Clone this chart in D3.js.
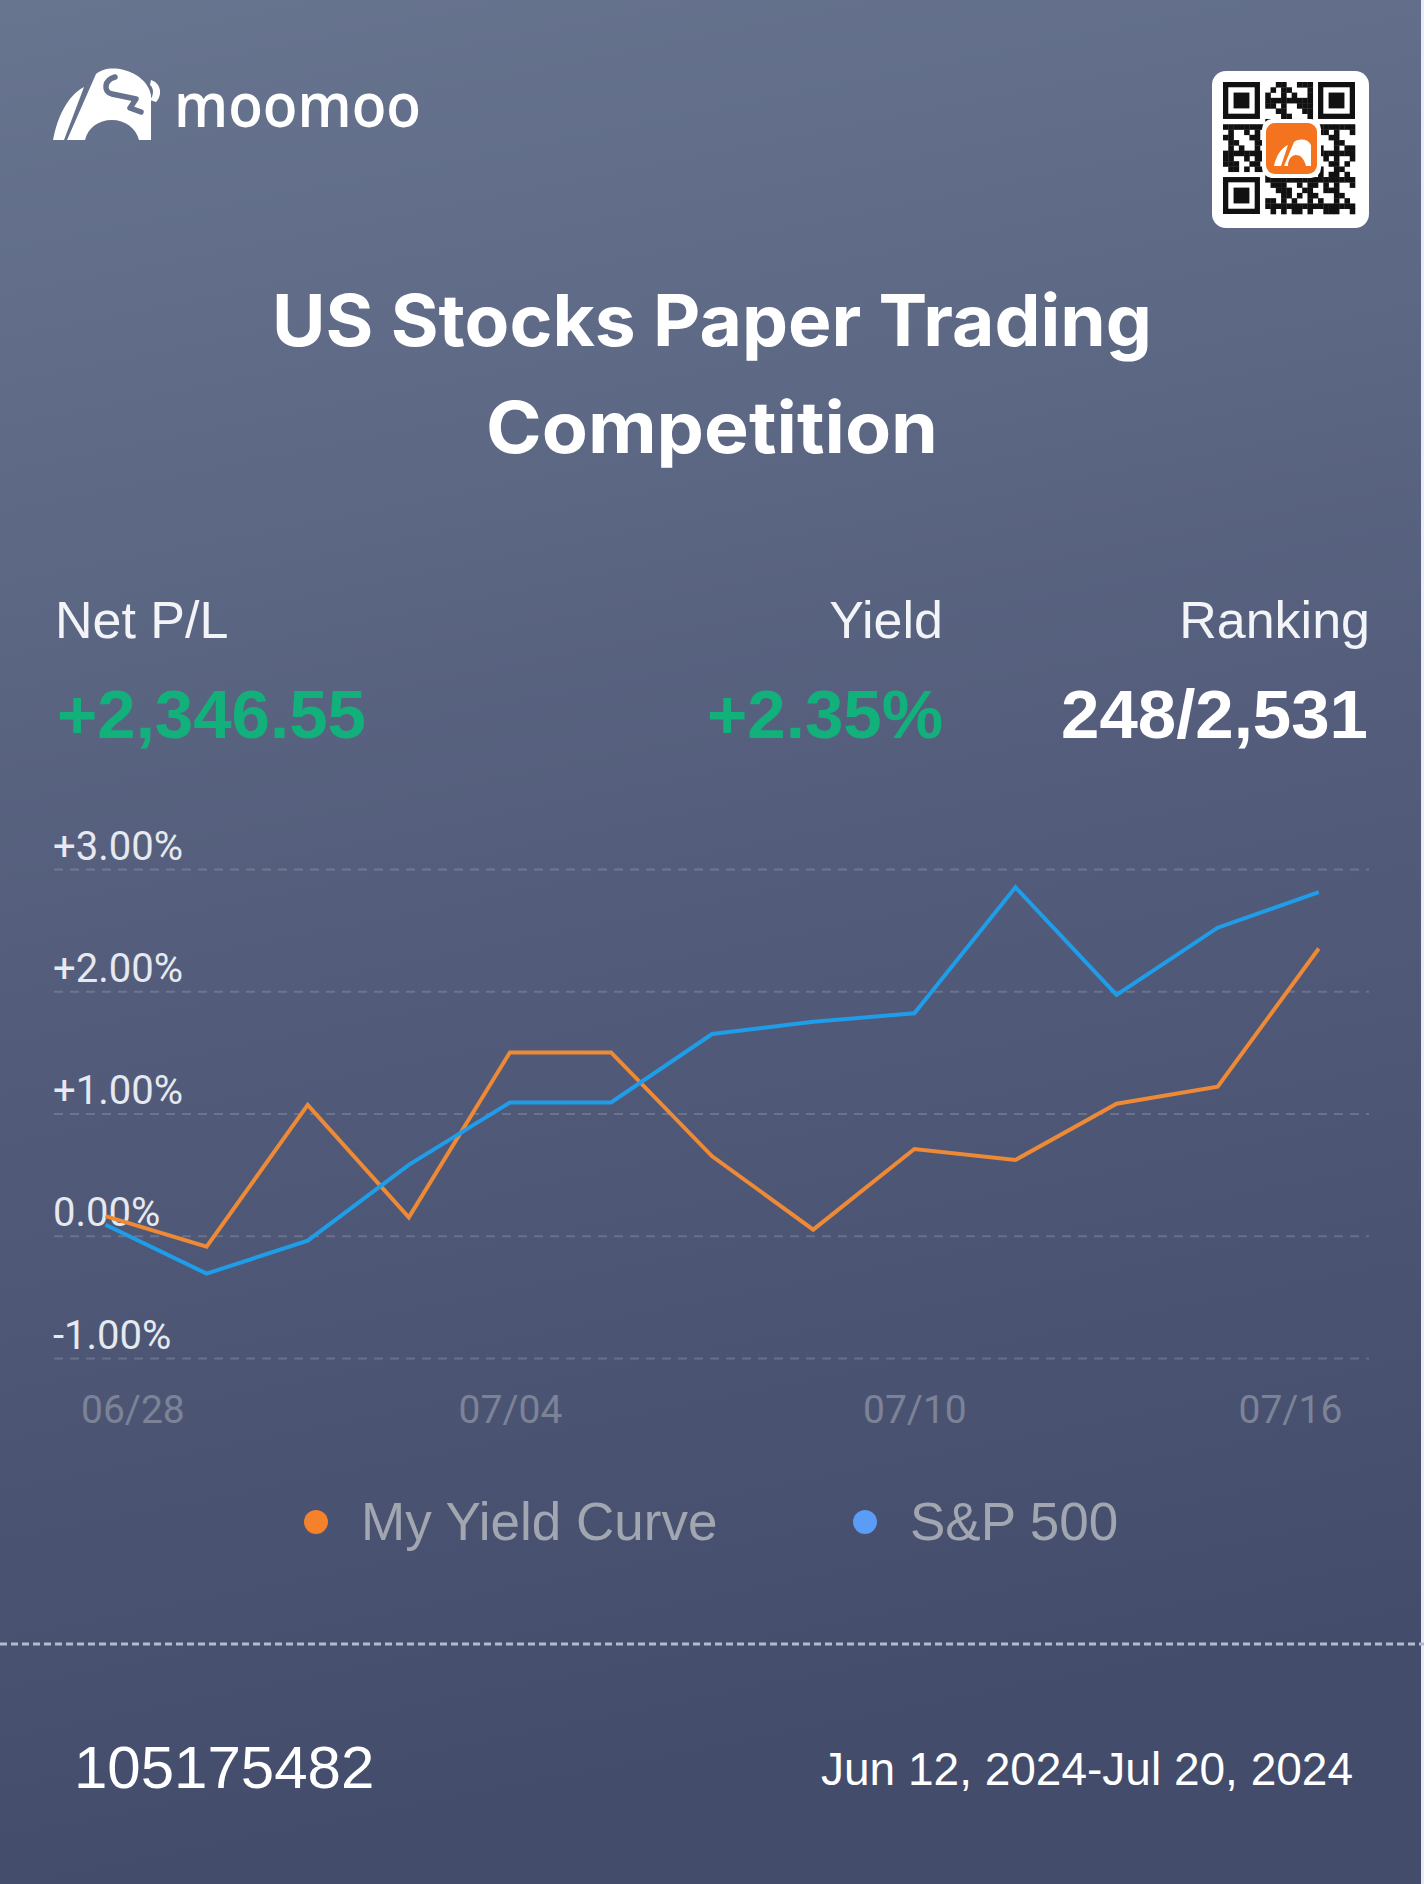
<!DOCTYPE html>
<html>
<head>
<meta charset="utf-8">
<script src="https://cdn.jsdelivr.net/npm/d3@7/dist/d3.min.js"></script>
<style>
  html, body { margin: 0; padding: 0; background: #555f7d; }
  svg { display: block; }
</style>
</head>
<body>
<svg id="chart" width="1424" height="1884"></svg>
<script>
// ---------- DATA ----------
const dates = ["06/28","07/01","07/02","07/03","07/04","07/05","07/08","07/09","07/10","07/11","07/12","07/15","07/16"];
const myYield = [0.16, -0.09, 1.07, 0.15, 1.50, 1.50, 0.65, 0.05, 0.71, 0.62, 1.08, 1.22, 2.35];
const sp500   = [0.09, -0.31, -0.04, 0.58, 1.09, 1.09, 1.65, 1.75, 1.82, 2.85, 1.97, 2.52, 2.81];
const yTicks = [-1, 0, 1, 2, 3];
const yTickLabels = ["-1.00%", "0.00%", "+1.00%", "+2.00%", "+3.00%"];
const xTickLabels = ["06/28", "07/04", "07/10", "07/16"];
const seriesNames = ["My Yield Curve", "S&P 500"];
const statLabels = ["Net P/L", "Yield", "Ranking"];
const statValues = ["+2,346.55", "+2.35%", "248/2,531"];
const titleLines = ["US Stocks Paper Trading", "Competition"];
const accountId = "105175482";
const dateRange = "Jun 12, 2024-Jul 20, 2024";

// ---------- SETUP ----------
const W = 1424, H = 1884;
const svg = d3.select("#chart");
const defs = svg.append("defs");
const bg = defs.append("linearGradient").attr("id", "bg").attr("x1", 0).attr("y1", 0).attr("x2", 0.15).attr("y2", 1);
bg.append("stop").attr("offset", "0%").attr("stop-color", "#68758f");
bg.append("stop").attr("offset", "50%").attr("stop-color", "#545e7c");
bg.append("stop").attr("offset", "100%").attr("stop-color", "#434c6b");
svg.append("rect").attr("width", W).attr("height", H).attr("fill", "url(#bg)");
svg.append("rect").attr("x", 1421).attr("y", 0).attr("width", 3).attr("height", H).attr("fill", "#e9ecf2");

// ---------- LOGO ----------
const logo = svg.append("g");
logo.append("path")
  .attr("d", "M53,140 C57,118 67,96 84,87 L64,140 Z")
  .attr("fill", "#ffffff");
logo.append("path")
  .attr("d", "M67,140 L96,74 C102,69 112,67 124,70 C137,73 149,83 151,95 L151,140 L139,140 C136,128 125,120 112,120 C98,120 88,128 85,140 Z")
  .attr("fill", "#ffffff");
logo.append("path")
  .attr("d", "M115,77 C104,80 103,92 112,94 L136,99 L130,108 L141,112")
  .attr("fill", "none").attr("stroke", "#66728e").attr("stroke-width", 5.5).attr("stroke-linecap", "round").attr("stroke-linejoin", "round");
logo.append("path")
  .attr("d", "M151,80 C161,83 163,95 156,102 L150,100 C154,95 154,88 150,85 Z")
  .attr("fill", "#ffffff");
logo.append("text")
  .attr("x", 174).attr("y", 127)
  .attr("textLength", 247).attr("lengthAdjust", "spacingAndGlyphs")
  .attr("font-family", "'Open Sans', sans-serif").attr("font-weight", 600)
  .attr("font-size", 62).attr("fill", "#ffffff")
  .text("moomoo");

// ---------- QR (decorative) ----------
const qr = svg.append("g");
qr.append("rect").attr("x", 1212).attr("y", 71).attr("width", 157).attr("height", 157).attr("rx", 14).attr("fill", "#ffffff");
const N = 25, q0x = 1223, q0y = 82, m = 132 / N;
function inFinder(i, j) {
  return (i < 8 && j < 8) || (i < 8 && j >= N - 8) || (i >= N - 8 && j < 8);
}
for (let i = 0; i < N; i++) {
  for (let j = 0; j < N; j++) {
    if (inFinder(i, j)) continue;
    const on = ((i * 7 + j * 11 + i * j * 3) % 5) < 2 || ((i + j * 3) % 7 === 0);
    if (on) qr.append("rect").attr("x", q0x + j * m).attr("y", q0y + i * m).attr("width", m + 0.3).attr("height", m + 0.3).attr("fill", "#111");
  }
}
[[0, 0], [0, N - 7], [N - 7, 0]].forEach(([r, c]) => {
  const x = q0x + c * m, y = q0y + r * m;
  qr.append("rect").attr("x", x).attr("y", y).attr("width", 7 * m).attr("height", 7 * m).attr("fill", "#111");
  qr.append("rect").attr("x", x + m).attr("y", y + m).attr("width", 5 * m).attr("height", 5 * m).attr("fill", "#fff");
  qr.append("rect").attr("x", x + 2 * m).attr("y", y + 2 * m).attr("width", 3 * m).attr("height", 3 * m).attr("fill", "#111");
});
qr.append("rect").attr("x", 1262).attr("y", 119).attr("width", 59).attr("height", 59).attr("rx", 10).attr("fill", "#ffffff");
qr.append("rect").attr("x", 1266).attr("y", 123).attr("width", 51).attr("height", 51).attr("rx", 9).attr("fill", "#f4731f");
qr.append("path").attr("d", "M1274,166 C1276,156 1281,148 1288,145 L1281,166 Z").attr("fill", "#fff");
qr.append("path").attr("d", "M1284,166 L1294,142 C1300,138 1308,139 1311,145 L1311,166 L1306,166 C1304,158 1300,155 1296,155 C1291,155 1288,160 1288,166 Z").attr("fill", "#fff");

// ---------- TITLE ----------
svg.selectAll("text.title").data(titleLines).enter().append("text")
  .attr("class", "title")
  .attr("x", 712).attr("y", (d, i) => 346 + i * 107)
  .attr("text-anchor", "middle")
  .attr("font-family", "Inter, 'Liberation Sans', sans-serif").attr("font-weight", 700)
  .attr("font-size", 71).attr("fill", "#ffffff")
  .attr("textLength", (d, i) => i === 0 ? 880 : 452)
  .attr("lengthAdjust", "spacingAndGlyphs")
  .text(d => d);

// ---------- STATS ----------
const statX = [55, 943, 1370];
const statAnchor = ["start", "end", "end"];
svg.selectAll("text.slabel").data(statLabels).enter().append("text")
  .attr("class", "slabel")
  .attr("x", (d, i) => statX[i]).attr("y", 638)
  .attr("text-anchor", (d, i) => statAnchor[i])
  .attr("font-family", "'Liberation Sans', Arial, sans-serif")
  .attr("font-size", 52).attr("fill", "#f3f4f7")
  .text(d => d);
svg.selectAll("text.svalue").data(statValues).enter().append("text")
  .attr("class", "svalue")
  .attr("x", (d, i) => i === 0 ? 57 : (i === 1 ? 943 : 1368)).attr("y", 738)
  .attr("text-anchor", (d, i) => statAnchor[i])
  .attr("font-family", "'Liberation Sans', Arial, sans-serif").attr("font-weight", 700)
  .attr("font-size", 69).attr("fill", (d, i) => i < 2 ? "#12b17c" : "#ffffff")
  .text(d => d);

// ---------- CHART ----------
const x = d3.scalePoint().domain(dates).range([105.5, 1318.8]);
const y = d3.scaleLinear().domain([-1, 3]).range([1358, 869]);

const yAxis = d3.axisRight(y).tickValues(yTicks).tickSize(1315)
  .tickFormat(d => yTickLabels[yTicks.indexOf(d)]);
const gy = svg.append("g").attr("transform", "translate(54,0)").call(yAxis);
gy.select(".domain").remove();
gy.selectAll(".tick line").attr("stroke", "rgba(255,255,255,0.16)").attr("stroke-width", 2).attr("stroke-dasharray", "9,7");
gy.selectAll(".tick text")
  .attr("x", -1).attr("dy", -10).attr("text-anchor", "start")
  .attr("font-family", "Roboto, sans-serif").attr("font-size", 40).attr("fill", "#e6e9ef");

const xAxis = d3.axisBottom(x).tickValues(xTickLabels).tickSize(0);
const gx = svg.append("g").attr("transform", "translate(0,1390)").call(xAxis);
gx.select(".domain").remove();
gx.selectAll(".tick text")
  .attr("font-family", "Roboto, sans-serif").attr("font-size", 39).attr("fill", "#7c8396")
  .attr("dy", 0).attr("y", 33)
  .attr("text-anchor", (d, i) => i === 0 ? "start" : (i === xTickLabels.length - 1 ? "end" : "middle"))
  .attr("dx", (d, i) => i === 0 ? -25 : (i === xTickLabels.length - 1 ? 23 : 0));

const line = d3.line().x((d, i) => x(dates[i])).y(d => y(d));
const series = [
  { name: seriesNames[0], values: myYield, color: "#ee8935" },
  { name: seriesNames[1], values: sp500, color: "#1f9de9" }
];
svg.selectAll("path.series").data(series).enter().append("path")
  .attr("class", "series")
  .attr("d", d => line(d.values))
  .attr("fill", "none").attr("stroke", d => d.color)
  .attr("stroke-width", 4).attr("stroke-linejoin", "miter");

// ---------- LEGEND ----------
const legendDotX = [316, 865];
const legendColors = ["#f5812b", "#5b9cf6"];
const lg = svg.append("g");
lg.selectAll("circle").data(seriesNames).enter().append("circle")
  .attr("cx", (d, i) => legendDotX[i]).attr("cy", 1522).attr("r", 12)
  .attr("fill", (d, i) => legendColors[i]);
lg.selectAll("text").data(seriesNames).enter().append("text")
  .attr("x", (d, i) => legendDotX[i] + 45).attr("y", 1540)
  .attr("font-family", "'Liberation Sans', Arial, sans-serif")
  .attr("font-size", 53).attr("fill", "#a2a6b0")
  .text(d => d);

// ---------- FOOTER ----------
svg.append("line").attr("x1", 0).attr("x2", W).attr("y1", 1644).attr("y2", 1644)
  .attr("stroke", "#b3bbcc").attr("stroke-width", 3).attr("stroke-dasharray", "7,4");
svg.append("text").attr("x", 74).attr("y", 1788)
  .attr("font-family", "'Liberation Sans', Arial, sans-serif").attr("font-size", 60).attr("fill", "#ffffff")
  .text(accountId);
svg.append("text").attr("x", 1353).attr("y", 1785).attr("text-anchor", "end")
  .attr("font-family", "'Liberation Sans', Arial, sans-serif").attr("font-size", 46).attr("fill", "#ffffff")
  .text(dateRange);
</script>
</body>
</html>
